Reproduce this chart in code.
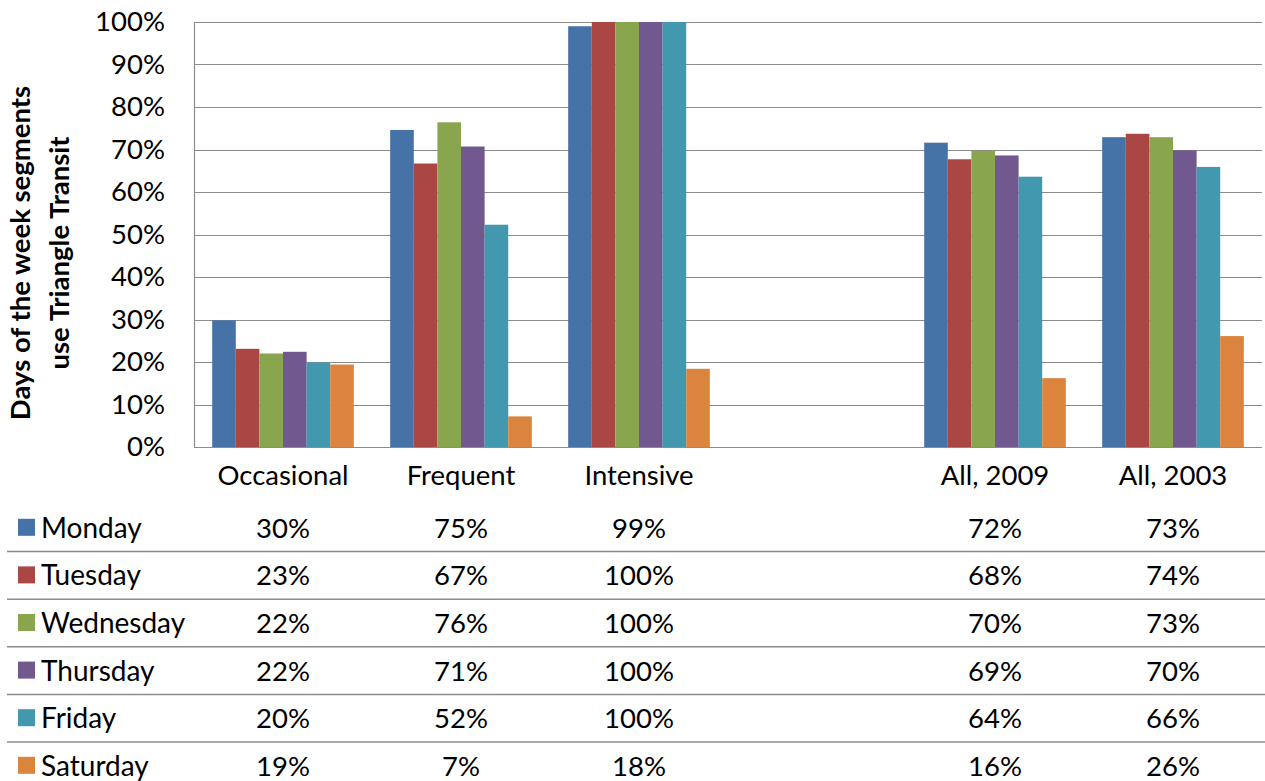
<!DOCTYPE html>
<html>
<head>
<meta charset="utf-8">
<script src="https://cdn.jsdelivr.net/npm/d3@7"></script>
<style>
  body { margin: 0; background: #fff; }
  svg { font-family: Lato, "Open Sans", sans-serif; }
</style>
</head>
<body>
<div id="wrapper"></div>
<script>
// data (bar values, table shows them rounded)
const categories = ['Occasional', 'Frequent', 'Intensive', '', 'All, 2009', 'All, 2003'];
const days = ['Monday', 'Tuesday', 'Wednesday', 'Thursday', 'Friday', 'Saturday'];
const monday = [0.298, 0.746, 0.99, null, 0.716, 0.729];
const tuesday = [0.231, 0.667, 1.0, null, 0.677, 0.737];
const wednesday = [0.22, 0.764, 1.0, null, 0.697, 0.729];
const thursday = [0.224, 0.707, 1.0, null, 0.686, 0.698];
const friday = [0.199, 0.523, 1.0, null, 0.636, 0.659];
const saturday = [0.194, 0.072, 0.184, null, 0.162, 0.261];
const yTicks = [0, 0.1, 0.2, 0.3, 0.4, 0.5, 0.6, 0.7, 0.8, 0.9, 1];
const colors = ['#4572A7', '#AA4643', '#89A54E', '#71588F', '#4198AF', '#DB843D'];

const seriesValues = [monday, tuesday, wednesday, thursday, friday, saturday];

const dimensions = {
  width: 1265,
  height: 781,
  margin: { top: 22, right: 3, left: 194 },
  plotBottom: 447,
};

const svg = d3
  .select('#wrapper')
  .append('svg')
  .attr('width', dimensions.width)
  .attr('height', dimensions.height);

// scales
const xScale = d3
  .scaleBand()
  .domain(d3.range(categories.length))
  .range([dimensions.margin.left, dimensions.width - dimensions.margin.right]);

const xInner = d3
  .scaleBand()
  .domain(d3.range(days.length))
  .range([0, xScale.bandwidth()])
  .paddingInner(0)
  .paddingOuter(0.77);

const yScale = d3
  .scaleLinear()
  .domain([0, 1])
  .range([dimensions.plotBottom, dimensions.margin.top]);

const pct = d3.format('.0%');

// gridlines
svg
  .append('g')
  .selectAll('line')
  .data(yTicks)
  .join('line')
  .attr('x1', dimensions.margin.left)
  .attr('x2', dimensions.width - dimensions.margin.right)
  .attr('y1', (d) => Math.round(yScale(d)) + 0.5)
  .attr('y2', (d) => Math.round(yScale(d)) + 0.5)
  .attr('stroke', '#8c8c8c')
  .attr('stroke-width', 1.2);

svg
  .append('line')
  .attr('x1', dimensions.margin.left + 0.5)
  .attr('x2', dimensions.margin.left + 0.5)
  .attr('y1', dimensions.margin.top)
  .attr('y2', dimensions.plotBottom)
  .attr('stroke', '#8c8c8c')
  .attr('stroke-width', 1.2);

// y axis
const yAxis = d3
  .axisLeft(yScale)
  .tickValues(yTicks)
  .tickFormat(pct)
  .tickSize(0)
  .tickPadding(29);

svg
  .append('g')
  .attr('transform', `translate(${dimensions.margin.left}, 0)`)
  .call(yAxis)
  .call((g) => g.select('.domain').remove())
  .selectAll('text')
  .attr('font-family', 'Lato, sans-serif')
  .attr('font-size', 27.5)
  .attr('fill', '#000');

// bars
const groups = svg
  .append('g')
  .selectAll('g')
  .data(seriesValues)
  .join('g')
  .attr('fill', (d, i) => colors[i]);

groups
  .selectAll('rect')
  .data((vals, si) => vals.map((v, ci) => ({ v, ci, si })).filter((d) => d.v !== null))
  .join('rect')
  .attr('x', (d) => xScale(d.ci) + xInner(d.si))
  .attr('width', xInner.bandwidth())
  .attr('y', (d) => yScale(d.v))
  .attr('height', (d) => yScale(0) - yScale(d.v));

// category labels
svg
  .append('g')
  .selectAll('text')
  .data(categories)
  .join('text')
  .attr('x', (d, i) => xScale(i) + xScale.bandwidth() / 2)
  .attr('y', 485)
  .attr('text-anchor', 'middle')
  .attr('font-size', 27.5)
  .text((d) => d);

// data table
const rowTop = 504;
const rowHeight = 47.6;

svg
  .append('g')
  .selectAll('line')
  .data(d3.range(1, days.length))
  .join('line')
  .attr('x1', 7)
  .attr('x2', dimensions.width)
  .attr('y1', (d) => rowTop + d * rowHeight)
  .attr('y2', (d) => rowTop + d * rowHeight)
  .attr('stroke', '#8c8c8c')
  .attr('stroke-width', 1.5);

const rows = svg
  .append('g')
  .selectAll('g')
  .data(days)
  .join('g')
  .attr('transform', (d, i) => `translate(0, ${rowTop + i * rowHeight + rowHeight / 2})`);

rows
  .append('rect')
  .attr('x', 18)
  .attr('y', -9)
  .attr('width', 17)
  .attr('height', 17)
  .attr('fill', (d, i) => colors[i]);

rows
  .append('text')
  .attr('x', 41)
  .attr('y', 10)
  .attr('font-size', 28)
  .text((d) => d);

rows
  .selectAll('text.val')
  .data((d, i) => seriesValues[i].map((v, ci) => ({ v, ci })).filter((d) => d.v !== null))
  .join('text')
  .attr('class', 'val')
  .attr('x', (d) => xScale(d.ci) + xScale.bandwidth() / 2)
  .attr('y', 10)
  .attr('text-anchor', 'middle')
  .attr('font-size', 27.5)
  .text((d) => pct(d.v));

// y axis title
const yTitle = svg
  .append('text')
  .attr('transform', 'translate(0, 253) rotate(-90)')
  .attr('text-anchor', 'middle')
  .attr('font-weight', 'bold')
  .attr('font-size', 27.5);

yTitle.append('tspan').attr('x', 0).attr('y', 30).text('Days of the week segments');
yTitle.append('tspan').attr('x', 0).attr('y', 69).text('use Triangle Transit');
</script>
</body>
</html>
